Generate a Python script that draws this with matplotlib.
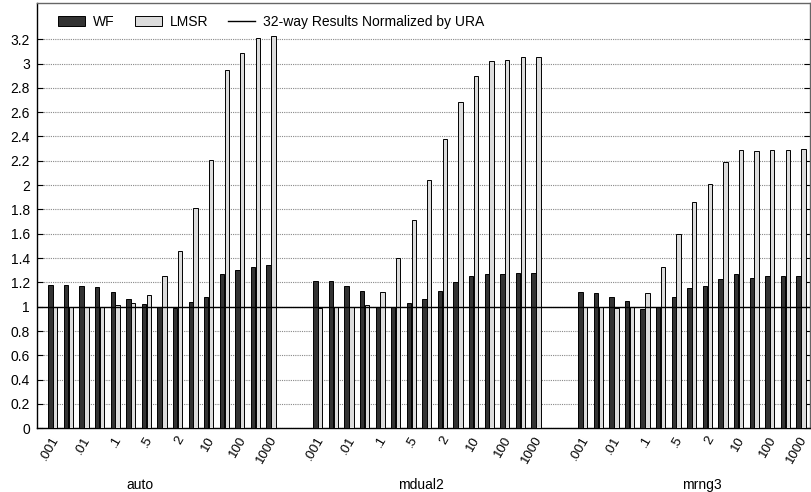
import matplotlib
matplotlib.use("Agg")
import matplotlib.pyplot as plt
import numpy as np
from matplotlib.patches import Patch
from matplotlib.lines import Line2D
from matplotlib.transforms import ScaledTranslation

plt.rcParams['font.family'] = ['Liberation Sans', 'DejaVu Sans']

groups = ["auto", "mdual2", "mrng3"]
tick_labels = [".001", "", ".01", "", ".1", "", ".5", "", "2", "", "10", "", "100", "", "1000"]

wf = {
    "auto":   [1.18, 1.18, 1.17, 1.16, 1.12, 1.06, 1.02, 1.00, 0.99, 1.04, 1.08, 1.27, 1.30, 1.33, 1.34],
    "mdual2": [1.21, 1.21, 1.17, 1.13, 1.00, 1.00, 1.03, 1.06, 1.13, 1.20, 1.25, 1.27, 1.27, 1.28, 1.28],
    "mrng3":  [1.12, 1.11, 1.08, 1.05, 0.98, 1.00, 1.08, 1.15, 1.17, 1.23, 1.27, 1.24, 1.25, 1.25, 1.25],
}
lmsr = {
    "auto":   [1.00, 1.00, 1.00, 1.00, 1.01, 1.03, 1.10, 1.25, 1.46, 1.81, 2.21, 2.95, 3.09, 3.21, 3.23],
    "mdual2": [0.99, 1.00, 1.00, 1.01, 1.12, 1.40, 1.71, 2.04, 2.38, 2.68, 2.90, 3.02, 3.03, 3.05, 3.05],
    "mrng3":  [1.00, 1.00, 0.99, 1.00, 1.11, 1.33, 1.60, 1.86, 2.01, 2.19, 2.29, 2.28, 2.29, 2.29, 2.30],
}
baseline = 1.0

WF_COLOR = "#333333"
LMSR_COLOR = "#dcdcdc"

fig = plt.figure(figsize=(8.11, 4.92), dpi=100)
ax = fig.add_axes([0.0456, 0.1295, 0.9535, 0.865])

n = len(tick_labels)
stride = n + 2
bw = 0.28
off = 0.155
xt, xl = [], []
for g, name in enumerate(groups):
    x = np.arange(n) + g * stride
    ax.bar(x - off, wf[name], width=bw, color=WF_COLOR, edgecolor="black", linewidth=0.7, zorder=3)
    ax.bar(x + off, lmsr[name], width=bw, color=LMSR_COLOR, edgecolor="black", linewidth=0.7, zorder=3)
    for i, lab in enumerate(tick_labels):
        if lab:
            xt.append(x[i]); xl.append(lab)

ax.axhline(baseline, color="black", linewidth=1.0, zorder=4)

ax.set_xlim(-1.02, 48.6)
ax.set_ylim(0, 3.5)
yt = np.round(np.arange(0, 3.21, 0.2), 1)
ax.set_yticks(yt)
ax.set_yticklabels([("%g" % v) for v in yt], fontsize=10)
ax.yaxis.grid(True, linestyle=(0, (1, 1)), color="#888888", linewidth=0.8, zorder=0)
ax.tick_params(axis="y", direction="in", length=4, right=True, left=True, pad=5)

ax.set_xticks(xt)
ax.set_xticklabels(xl, rotation=60, ha="right", va="center", rotation_mode="anchor", fontsize=9.5)
ax.tick_params(axis="x", length=0, pad=6.5)
for lab in ax.get_xticklabels():
    lab.set_transform(lab.get_transform() + ScaledTranslation(0.035, 0, fig.dpi_scale_trans))

for g, name in enumerate(groups):
    ax.text([0.133, 0.496, 0.860][g], -0.1332, name, transform=ax.transAxes,
            ha="center", va="center", fontsize=10)

for s in ax.spines.values():
    s.set_linewidth(1.0)
ax.spines["top"].set_color("#666666")
ax.spines["right"].set_color("#666666")

handles = [Patch(facecolor=WF_COLOR, edgecolor="black", linewidth=0.7),
           Patch(facecolor=LMSR_COLOR, edgecolor="black", linewidth=0.7),
           Line2D([0], [0], color="black", linewidth=1.0)]
ax.legend(handles, ["WF", "LMSR", "32-way Results Normalized by URA"], loc="center left",
          bbox_to_anchor=(0.0271, 0.9547), ncol=3, frameon=False, fontsize=10,
          borderaxespad=0, borderpad=0,
          handlelength=1.95, handleheight=0.65, columnspacing=1.44, handletextpad=0.58)

fig.savefig("out.png", dpi=100)
